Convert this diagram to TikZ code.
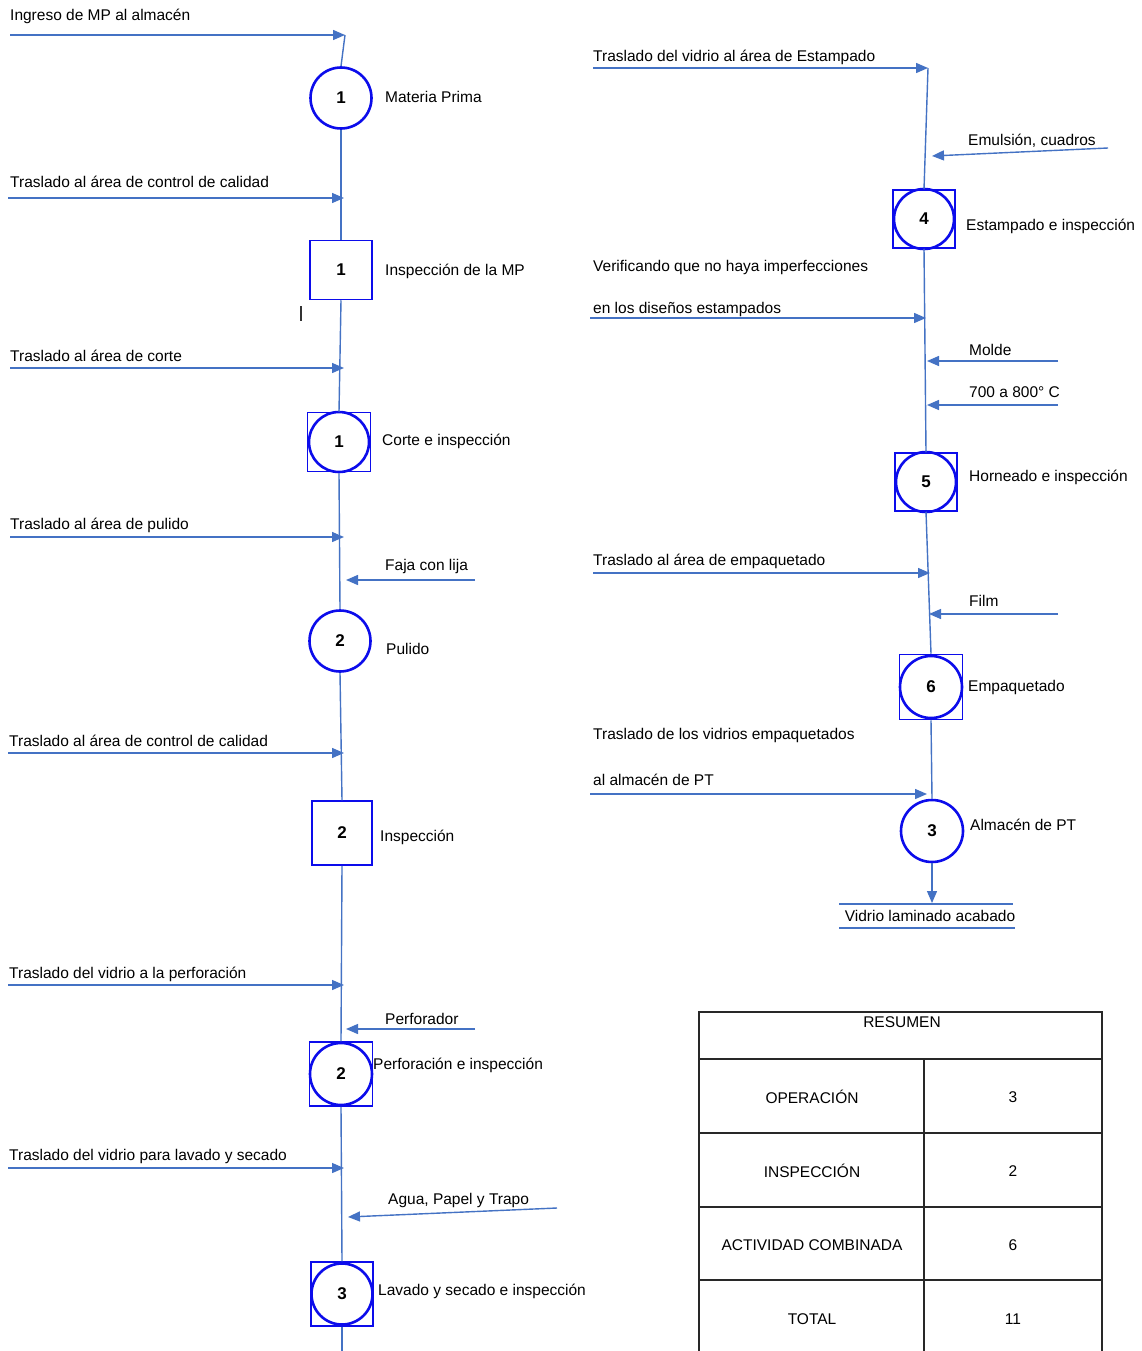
\documentclass[tikz,border=0pt]{standalone}
\usepackage{fontspec}
\setmainfont{Liberation Sans}
\usetikzlibrary{arrows.meta}
\definecolor{flowblue}{RGB}{68,114,196}
\definecolor{symblue}{RGB}{12,12,235}
\definecolor{gridgray}{RGB}{40,40,40}

\begin{document}
\begin{tikzpicture}[x=1pt,y=-1pt,
  flow/.style={draw=flowblue,line width=1.4pt},
  feed/.style={flow,-{Triangle[length=12pt,width=10pt]}},
  lbl/.style={anchor=base west,inner sep=0pt,font=\fontsize{15.5}{18}\selectfont},
  cell/.style={inner sep=0pt,font=\fontsize{15.5}{18}\selectfont},
  opcirc/.style={circle,draw=symblue,line width=2.6pt,minimum size=#1,inner sep=0pt,
    font=\fontsize{17}{18}\selectfont\bfseries},
  opcirc/.default=61pt,
  insbox/.style 2 args={rectangle,draw=symblue,line width=1.5pt,minimum width=#1,
    minimum height=#2,inner sep=0pt,font=\fontsize{17}{18}\selectfont\bfseries},
]
\useasboundingbox[fill=white] (0,0) rectangle (1142,1351);

% ---------------- left column: symbols ----------------
\node[opcirc] (c1) at (341,98) {1};
\node[insbox={62pt}{59pt}] (q1) at (341,270) {1};
\node[insbox={63pt}{59pt}] (k1) at (339,442) {};
\node[opcirc=60pt] (k1c) at (339,442) {1};
\node[opcirc] (c2) at (340,641) {2};
\node[insbox={60pt}{64pt}] (q2) at (342,833) {2};
\node[insbox={63pt}{64pt}] (k2) at (341,1074) {};
\node[opcirc=62pt] (k2c) at (341,1074) {2};
\node[insbox={62pt}{64pt}] (k3) at (342,1294) {};
\node[opcirc=61pt] (k3c) at (342,1294) {3};

% ---------------- left column: main line ----------------
\coordinate (a1s) at (10,35);   \coordinate (a1e) at (345,35);
\coordinate (a2s) at (8,198);   \coordinate (a2e) at (344,198);
\coordinate (a3s) at (10,368);  \coordinate (a3e) at (344,368);
\coordinate (a4s) at (10,537);  \coordinate (a4e) at (344,537);
\coordinate (a5s) at (8,753);   \coordinate (a5e) at (344,753);
\coordinate (a6s) at (8,985);   \coordinate (a6e) at (344,985);
\coordinate (a7s) at (8,1168);  \coordinate (a7e) at (344,1168);
\coordinate (f1s) at (475,580); \coordinate (f1e) at (346,580);
\coordinate (f2s) at (475,1029);\coordinate (f2e) at (346,1029);
\coordinate (f3s) at (557,1208);\coordinate (f3e) at (348,1217);
\coordinate (lend) at (342,1351);

\draw[flow] (a1e) -- (c1.north);
\draw[flow] (c1.south) -- (q1.north);
\draw[flow] (q1.south) -- (k1.north);
\draw[flow] (k1c.south) -- (c2.north);
\draw[flow] (c2.south) -- (q2.north);
\draw[flow] (q2.south) -- (k2.north);
\draw[flow] (k2.south) -- (k3.north);
\draw[flow] (k3.south) -- (lend);

\draw[feed] (a1s) -- (a1e);
\draw[feed] (a2s) -- (a2e);
\draw[feed] (a3s) -- (a3e);
\draw[feed] (a4s) -- (a4e);
\draw[feed] (a5s) -- (a5e);
\draw[feed] (a6s) -- (a6e);
\draw[feed] (a7s) -- (a7e);
\draw[feed] (f1s) -- (f1e);
\draw[feed] (f2s) -- (f2e);
\draw[feed] (f3s) -- (f3e);

% small text cursor mark
\draw[black!80,line width=1.3pt] (301,306) -- (301,321);

% ---------------- left column: labels ----------------
\node[lbl] (t1) at (10,21) {Ingreso de MP al almacén};
\node[lbl] (n1) at (385,103) {Materia Prima};
\node[lbl] (t2) at (10,187) {Traslado al área de control de calidad};
\node[lbl] (n2) at (385,275) {Inspección de la MP};
\node[lbl] (t3) at (10,361) {Traslado al área de corte};
\node[lbl] (n3) at (382,445) {Corte e inspección};
\node[lbl] (t4) at (10,529) {Traslado al área de pulido};
\node[lbl] (m1) at (385,570) {Faja con lija};
\node[lbl] (n4) at (386,654) {Pulido};
\node[lbl] (t5) at (9,746) {Traslado al área de control de calidad};
\node[lbl] (n5) at (380,841) {Inspección};
\node[lbl] (t6) at (9,978) {Traslado del vidrio a la perforación};
\node[lbl] (m2) at (385,1024) {Perforador};
\node[lbl] (n6) at (373,1069) {Perforación e inspección};
\node[lbl] (t7) at (9,1160) {Traslado del vidrio para lavado y secado};
\node[lbl] (m3) at (388,1204) {Agua, Papel y Trapo};
\node[lbl] (n7) at (378,1295) {Lavado y secado e inspección};

% ---------------- right column: symbols ----------------
\node[insbox={62pt}{58pt}] (k4) at (924,219) {};
\node[opcirc=60pt] (k4c) at (924,219) {4};
\node[insbox={62pt}{58pt}] (k5) at (926,482) {};
\node[opcirc=60pt] (k5c) at (926,482) {5};
\node[insbox={63pt}{65pt}] (k6) at (931,687) {};
\node[opcirc=62pt] (k6c) at (931,687) {6};
\node[opcirc=62pt] (c3) at (932,831) {3};

% ---------------- right column: main line ----------------
\coordinate (b1s) at (593,68);   \coordinate (b1e) at (928,68);
\coordinate (b2s) at (590,318);  \coordinate (b2e) at (926,318);
\coordinate (b3s) at (593,573);  \coordinate (b3e) at (930,573);
\coordinate (b4s) at (590,794);  \coordinate (b4e) at (927,794);
\coordinate (g1s) at (1108,148); \coordinate (g1e) at (932,156);
\coordinate (g2s) at (1058,361); \coordinate (g2e) at (927,361);
\coordinate (g3s) at (1058,405); \coordinate (g3e) at (927,405);
\coordinate (g4s) at (1058,614); \coordinate (g4e) at (929,614);
\coordinate (outp) at (932,903);

\draw[flow] (b1e) -- (k4.north);
\draw[flow] (k4.south) -- (k5.north);
\draw[flow] (k5.south) -- (k6.north);
\draw[flow] (k6.south) -- (c3.north);
\draw[feed] (c3.south) -- (outp);

\draw[feed] (b1s) -- (b1e);
\draw[feed] (b2s) -- (b2e);
\draw[feed] (b3s) -- (b3e);
\draw[feed] (b4s) -- (b4e);
\draw[feed] (g1s) -- (g1e);
\draw[feed] (g2s) -- (g2e);
\draw[feed] (g3s) -- (g3e);
\draw[feed] (g4s) -- (g4e);

% finished product bar
\draw[flow] (839,904) -- (1013,904);
\draw[flow] (839,928) -- (1015,928);

% ---------------- right column: labels ----------------
\node[lbl] (u1) at (593,62) {Traslado del vidrio al área de Estampado};
\node[lbl] (r1) at (968,146) {Emulsión, cuadros};
\node[lbl] (p1) at (966,230) {Estampado e inspección};
\node[lbl] (u2) at (593,271) {Verificando que no haya imperfecciones};
\node[lbl] (u3) at (593,313) {en los diseños estampados};
\node[lbl] (r2) at (969,355) {Molde};
\node[lbl] (r3) at (969,397) {700 a 800° C};
\node[lbl] (p2) at (969,481) {Horneado e inspección};
\node[lbl] (u4) at (593,565) {Traslado al área de empaquetado};
\node[lbl] (r4) at (969,606) {Film};
\node[lbl] (p3) at (968,691) {Empaquetado};
\node[lbl] (u5) at (593,739) {Traslado de los vidrios empaquetados};
\node[lbl] (u6) at (593,785) {al almacén de PT};
\node[lbl] (p4) at (970,830) {Almacén de PT};
\node[lbl,anchor=base] (fin) at (930,921) {Vidrio laminado acabado};

% ---------------- summary table ----------------
\begin{scope}[draw=gridgray,line width=1.2pt]
  \draw (699,1351) -- (699,1012) -- (1102,1012) -- (1102,1351);
  \draw (699,1059) -- (1102,1059);
  \draw (699,1133) -- (1102,1133);
  \draw (699,1207) -- (1102,1207);
  \draw (699,1280) -- (1102,1280);
  \draw (924,1059) -- (924,1351);
\end{scope}
\node[cell] (h0) at (902,1022) {RESUMEN};
\node[cell] (h1) at (812,1097) {OPERACIÓN};
\node[cell] (v1) at (1013,1097) {3};
\node[cell] (h2) at (812,1171) {INSPECCIÓN};
\node[cell] (v2) at (1013,1171) {2};
\node[cell] (h3) at (812,1245) {ACTIVIDAD COMBINADA};
\node[cell] (v3) at (1013,1245) {6};
\node[cell] (h4) at (812,1319) {TOTAL};
\node[cell] (v4) at (1013,1319) {11};
\end{tikzpicture}
\end{document}
